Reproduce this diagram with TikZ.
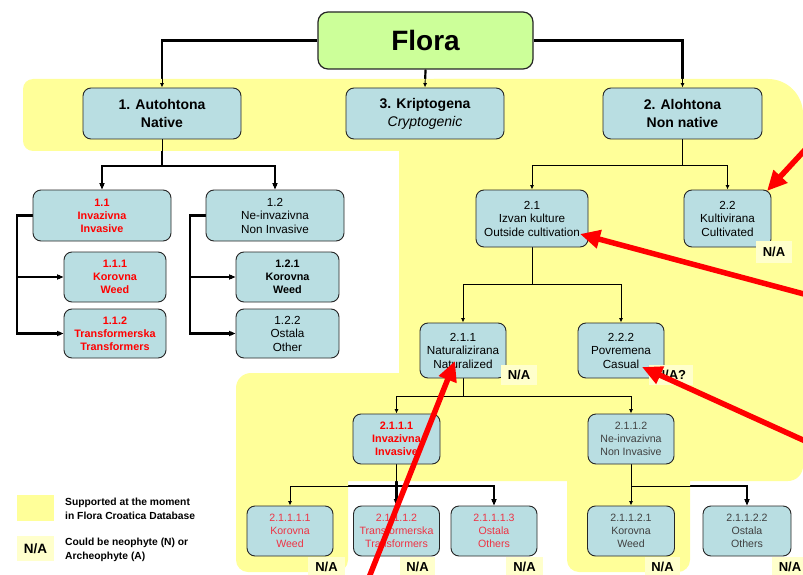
\documentclass[tikz,border=0pt]{standalone}
\usepackage{fontspec}
\setmainfont{Liberation Sans}
\usetikzlibrary{arrows.meta}
\definecolor{bandyellow}{HTML}{FFFF99}
\definecolor{nayellow}{HTML}{FFFFCC}
\definecolor{nodeblue}{HTML}{B9DEE2}
\definecolor{floragreen}{HTML}{CCFF99}
\definecolor{lightred}{HTML}{EE3344}
\definecolor{graytxt}{HTML}{404040}
\pgfdeclarelayer{whitebg}
\pgfdeclarelayer{thicklines}
\pgfdeclarelayer{yellowbg}
\pgfdeclarelayer{thinlines}
\pgfsetlayers{whitebg,thicklines,yellowbg,thinlines,main}
\newcommand\myFbig{\fontsize{14}{18}\selectfont\bfseries}
\newcommand\myFmid{\fontsize{11.7}{13.5}\selectfont}
\newcommand\myFmidb{\fontsize{10.8}{13}\selectfont\bfseries}
\newcommand\myFsmall{\fontsize{10.6}{12.8}\selectfont}
\newcommand\myconnectors{%
 \draw[conn] (flora.west) -| (aut.north);
 \draw[conn] (flora.south) -- (kri.north);
 \draw[conn] (flora.east) -| (alo.north);
 \draw[conn] (aut.south) -- (aut.south |- ya) -| (n11.north);
 \draw[conn] (aut.south |- ya) -| (n12.north);
 \draw[conn] (n11.west) -- (n11.west -| xa) |- (n112.west);
 \draw[conn] (n11.west -| xa) |- (n111.west);
 \draw[conn] (n12.west) -- (n12.west -| xb) |- (n122.west);
 \draw[conn] (n12.west -| xb) |- (n121.west);
 \draw[conn] (alo.south) -- (alo.south |- yb) -| (n21.north);
 \draw[conn] (alo.south |- yb) -| (n22.north);
 \draw[conn] (n21.south) -- (n21.south |- yc) -| (n211.north);
 \draw[conn] (n21.south |- yc) -| (n222.north);
 \draw[conn] (n211.south) -- (n211.south |- yd) -| (n2111.north);
 \draw[conn] (n211.south |- yd) -| (n2112.north);
 \draw[conn] (n2111.south) -- (n2111.south |- ye) -| (n21111.north);
 \draw[conn] (n2111.south) -- (n21112.north);
 \draw[conn] (n2111.south |- ye) -| (n21113.north);
 \draw[conn] (n2112.south) -- (n21121.north);
 \draw[conn] (n2112.south |- ye) -| (n21122.north);
}
\tikzset{
 conn/.style={},
 box/.style={draw=black!85, line width=0.9pt, fill=nodeblue, rounded corners=8pt,
   align=center, inner sep=0pt, font=\myFmid},
 topbox/.style={box, minimum width=158pt, minimum height=51pt, font=\myFbig},
 nabox/.style={fill=nayellow, font=\fontsize{13}{13}\selectfont\bfseries, inner sep=0pt,
   minimum height=20pt},
 redarrow/.style={draw=red, line width=5.5pt, -{Triangle[length=20pt,width=18pt]}},
}
\begin{document}
\begin{tikzpicture}[x=1pt,y=-1pt]
\useasboundingbox (0,0) rectangle (803,575);
\begin{pgfonlayer}{whitebg}
 \fill[white] (0,0) rectangle (803,575);
\end{pgfonlayer}

% level coordinates
\coordinate (ya) at (0,166);
\coordinate (xa) at (17,0);
\coordinate (xb) at (190,0);
\coordinate (yb) at (0,165);
\coordinate (yc) at (0,284);
\coordinate (yd) at (0,396);
\coordinate (ye) at (0,486);

% nodes
\node[box, fill=floragreen, line width=1.2pt, rounded corners=10pt, minimum width=215pt,
  minimum height=57pt, font=\fontsize{28}{30}\selectfont\bfseries] (flora) at (425.5,40.5) {Flora};
\node[topbox] (aut) at (162,113.5) {1. Autohtona\\Native};
\node[topbox] (kri) at (425,113.5) {3. Kriptogena\\{\mdseries\itshape Cryptogenic}};
\node[topbox, minimum width=159pt] (alo) at (682.5,113.5) {2. Alohtona\\Non native};

\node[box, minimum width=138pt, minimum height=51pt, font=\myFmidb, text=red] (n11) at (102,215.5) {1.1\\Invazivna\\Invasive};
\node[box, minimum width=138pt, minimum height=51pt] (n12) at (275,215.5) {1.2\\Ne-invazivna\\Non Invasive};
\node[box, minimum width=102pt, minimum height=50pt, font=\myFmidb, text=red] (n111) at (115,277) {1.1.1\\Korovna\\Weed};
\node[box, minimum width=102pt, minimum height=49pt, font=\myFmidb, text=red] (n112) at (115,333.5) {1.1.2\\Transformerska\\Transformers};
\node[box, minimum width=103pt, minimum height=50pt, font=\myFmidb] (n121) at (287.5,277) {1.2.1\\Korovna\\Weed};
\node[box, minimum width=103pt, minimum height=49pt] (n122) at (287.5,333.5) {1.2.2\\Ostala\\Other};

\node[box, minimum width=112pt, minimum height=57pt] (n21) at (532,218.5) {2.1\\Izvan kulture\\Outside cultivation};
\node[box, minimum width=87pt, minimum height=57pt] (n22) at (727.5,218.5) {2.2\\Kultivirana\\Cultivated};
\node[box, minimum width=86pt, minimum height=55pt] (n211) at (463,350.5) {2.1.1\\Naturalizirana\\Naturalized};
\node[box, minimum width=86pt, minimum height=55pt] (n222) at (621,350.5) {2.2.2\\Povremena\\Casual};
\node[box, minimum width=87pt, minimum height=50pt, font=\myFmidb, text=red] (n2111) at (396.5,439) {2.1.1.1\\Invazivna\\Invasive};
\node[box, minimum width=86pt, minimum height=50pt, font=\myFsmall, text=graytxt] (n2112) at (631,439) {2.1.1.2\\Ne-invazivna\\Non Invasive};
\node[box, minimum width=86pt, minimum height=50pt, font=\myFsmall, text=lightred] (n21111) at (290,531) {2.1.1.1.1\\Korovna\\Weed};
\node[box, minimum width=86pt, minimum height=50pt, font=\myFsmall, text=lightred] (n21112) at (396.5,531) {2.1.1.1.2\\Transformerska\\Transformers};
\node[box, minimum width=86pt, minimum height=50pt, font=\myFsmall, text=lightred] (n21113) at (494,531) {2.1.1.1.3\\Ostala\\Others};
\node[box, minimum width=87pt, minimum height=50pt, font=\myFsmall, text=graytxt] (n21121) at (631,531) {2.1.1.2.1\\Korovna\\Weed};
\node[box, minimum width=88pt, minimum height=50pt, font=\myFsmall, text=graytxt] (n21122) at (747,531) {2.1.1.2.2\\Ostala\\Others};

% N/A labels
\node[nabox, minimum width=36pt, minimum height=22pt] (na22) at (774,252) {N/A};
\node[nabox, minimum width=36pt] (na211) at (519,375) {N/A};
\node[nabox, minimum width=44pt] (na222) at (671,375) {N/A?};
\node[nabox, minimum width=37pt] (na21111) at (326.5,567) {N/A};
\node[nabox, minimum width=35pt] (na21112) at (417.5,567) {N/A};
\node[nabox, minimum width=37pt] (na21113) at (524.5,567) {N/A};
\node[nabox, minimum width=35pt] (na21121) at (662.5,567) {N/A};
\node[nabox, minimum width=36pt] (na21122) at (790,567) {N/A};

% legend
\node[fill=bandyellow, minimum width=37pt, minimum height=26pt, inner sep=0pt] (legy) at (35.5,508) {};
\node[anchor=west, align=left, inner sep=0pt, font=\fontsize{10.3}{14}\selectfont\bfseries] (legyt) at (65,509) {Supported at the moment\\in Flora Croatica Database};
\node[nabox, minimum width=37pt, minimum height=25pt, font=\fontsize{13.5}{14}\selectfont\bfseries] (legna) at (35.5,548.5) {N/A};
\node[anchor=west, align=left, inner sep=0pt, font=\fontsize{10.3}{14}\selectfont\bfseries] (legnat) at (65,550) {Could be neophyte (N) or\\Archeophyte (A)};

% connectors: thick under the yellow, thin over it
\begin{pgfonlayer}{thicklines}
 \begin{scope}[line width=2.2pt, conn/.style={-{Latex[length=6.5pt,width=6pt]}}]
  \myconnectors
 \end{scope}
\end{pgfonlayer}
\begin{pgfonlayer}{yellowbg}
 \fill[bandyellow, rounded corners=10pt] (23,79) rectangle (500,151);
 \fill[bandyellow, rounded corners=35pt] (399,79) rectangle (803,300);
 \fill[bandyellow, rounded corners=15pt] (399,200) rectangle (803,481);
 \fill[bandyellow, rounded corners=15pt] (236,373) rectangle (450,481);
 \fill[bandyellow, rounded corners=12pt] (236,430) rectangle (348,572);
 \fill[bandyellow, rounded corners=12pt] (567,430) rectangle (690,572);
\end{pgfonlayer}
\begin{pgfonlayer}{thinlines}
 \begin{scope}[line width=0.9pt, conn/.style={-{Latex[length=4.5pt,width=4pt]}}]
  \myconnectors
 \end{scope}
\end{pgfonlayer}

% red arrows
\coordinate (r1a) at (815,139);
\coordinate (r1b) at (767,191);
\coordinate (r2a) at (830,301);
\coordinate (r2b) at (580,234);
\coordinate (r3a) at (825,450);
\coordinate (r3b) at (642,367);
\coordinate (r4a) at (366,585);
\coordinate (r4b) at (455,361);
\draw[redarrow] (r1a) -- (r1b);
\draw[redarrow] (r2a) -- (r2b);
\draw[redarrow] (r3a) -- (r3b);
\draw[redarrow] (r4a) -- (r4b);
\end{tikzpicture}
\end{document}
